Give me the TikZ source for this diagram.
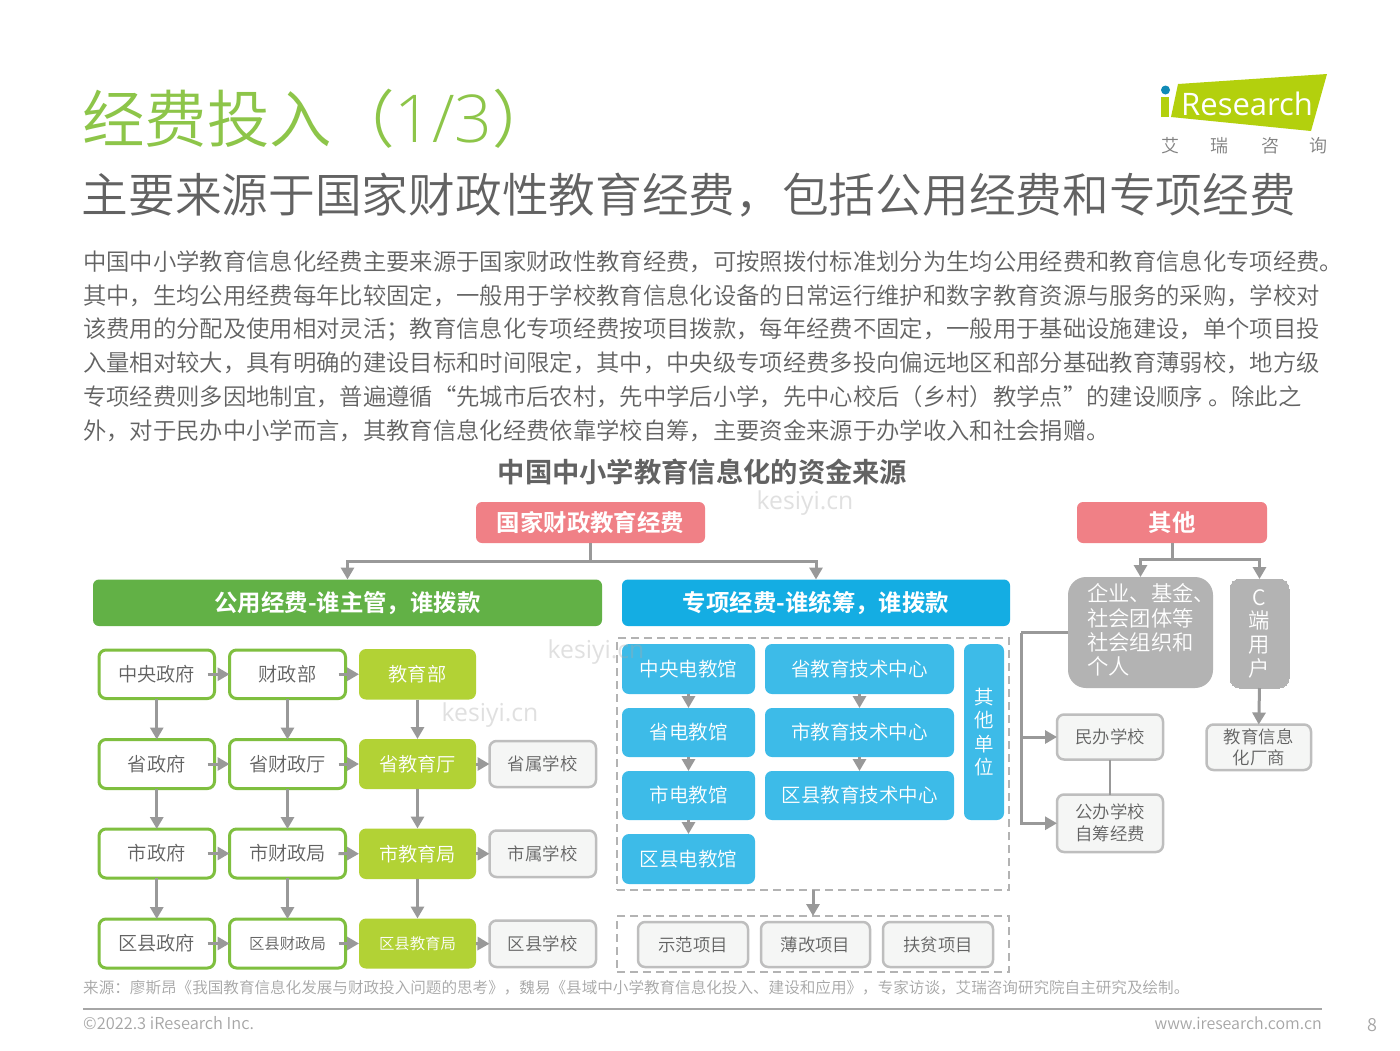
\documentclass[tikz,border=0pt]{standalone}
\usepackage{fontspec}
\setmainfont{Noto Sans CJK SC}[UprightFont=* DemiLight,BoldFont=* Bold]
\newfontfamily\latinf{Open Sans}
\newfontfamily\latinl{Open Sans}[UprightFont=* Light]
\usetikzlibrary{arrows.meta,calc}
\definecolor{cpink}{HTML}{F08086}
\definecolor{cgreen}{HTML}{62B146}
\definecolor{cblue}{HTML}{14ADE3}
\definecolor{clblue}{HTML}{3DBBE8}
\definecolor{clime}{HTML}{B2D235}
\definecolor{cedge}{HTML}{7FBF3F}
\definecolor{cgrey}{HTML}{B3B3B3}
\definecolor{cline}{HTML}{999999}
\definecolor{ctitle}{HTML}{8DC549}
\definecolor{ctext}{HTML}{626262}
\definecolor{cfoot}{HTML}{A6A6A6}
\definecolor{cpale}{HTML}{F5F6F5}
\definecolor{cwater}{HTML}{A8A8A8}
\definecolor{clogo}{HTML}{B3D00D}
\newcommand\pxf[1]{\fontsize{#1}{#1}\selectfont}
\newcommand\bx[7]{\node[#6,minimum width={(#4-#2)*1pt},minimum height={(#5-#3)*1pt}] (#1) at ({(#2+#4)/2},{(#3+#5)/2}) {#7};}
\tikzset{
 base/.style={inner sep=0pt,outer sep=0pt,align=center},
 headbox/.style={base,fill=cpink,rounded corners=6pt,text=white,font=\pxf{23.4}\bfseries},
 pubbar/.style={base,fill=cgreen,rounded corners=6pt,text=white,font=\pxf{23.4}\bfseries},
 projbar/.style={base,fill=cblue,rounded corners=6pt,text=white,font=\pxf{23.4}\bfseries},
 govbox/.style={base,draw=cedge,line width=3pt,fill=white,rounded corners=7pt,text=ctext,font=\pxf{19.2}},
 limebox/.style={base,fill=clime,rounded corners=7pt,text=white,font=\pxf{19.2}},
 blubox/.style={base,fill=clblue,rounded corners=7pt,text=white,font=\pxf{19.5}},
 palebox/.style={base,draw=cgrey!85!white,line width=2.5pt,fill=cpale,rounded corners=7pt,text=ctext,font=\pxf{17.4}},
 greybox/.style={base,fill=cgrey,text=white,font=\pxf{21.3}},
 dashbox/.style={base,draw=cgrey,line width=2.5pt,dash pattern=on 8pt off 5pt},
 arr/.style={draw=cline,line width=3pt,-{Triangle[width=13pt,length=12pt]}},
 ln/.style={draw=cline,line width=3pt},
 bodyline/.style={anchor=west,inner sep=0pt,text=ctext,font=\pxf{23.33}},
 water/.style={text=cwater,text opacity=.35,inner sep=0pt,font=\latinf\pxf{24.7}},
}
\begin{document}
\begin{tikzpicture}[x=1pt,y=-1pt]
\useasboundingbox (0,0) rectangle (1400,1050);
\fill[white] (0,0) rectangle (1400,1050);

% title
\node[anchor=west,inner sep=0pt,text=ctitle,font=\pxf{62.5}] (title) at (82,118.5) {经费投入（{\latinl\pxf{66}1/3}）};
\node[anchor=west,inner sep=0pt,text=ctext,font=\pxf{46.7}] (subtitle) at (81.5,195) {主要来源于国家财政性教育经费，包括公用经费和专项经费};

% logo
\fill[clogo] (1178,84) -- (1327,74) -- (1311,131) -- (1171,117) -- cycle;
\fill[clogo] (1161,97) rectangle (1169,117);
\fill[cblue!80!black] (1165.5,90) circle (4.5);
\node[anchor=west,inner sep=0pt,text=white,font=\latinf\pxf{31}] (logoname) at (1181,104) {Research};
\foreach \nm/\cx/\ch in {la/1170/艾,lb/1219/瑞,lc/1270/咨,ld/1318/询}
  \node[inner sep=0pt,text=ctext!80!white,font=\pxf{18}] (\nm) at (\cx,146) {\ch};

% paragraph
\node[bodyline] (p1) at (83,261.7) {中国中小学教育信息化经费主要来源于国家财政性教育经费，可按照拨付标准划分为生均公用经费和教育信息化专项经费。};
\node[bodyline] (p2) at (83,295.5) {其中，生均公用经费每年比较固定，一般用于学校教育信息化设备的日常运行维护和数字教育资源与服务的采购，学校对};
\node[bodyline] (p3) at (83,329) {该费用的分配及使用相对灵活；教育信息化专项经费按项目拨款，每年经费不固定，一般用于基础设施建设，单个项目投};
\node[bodyline] (p4) at (83,363) {入量相对较大，具有明确的建设目标和时间限定，其中，中央级专项经费多投向偏远地区和部分基础教育薄弱校，地方级};
\node[bodyline] (p5) at (83,396.5) {专项经费则多因地制宜，普遍遵循“先城市后农村，先中学后小学，先中心校后（乡村）教学点”的建设顺序 。除此之};
\node[bodyline] (p6) at (83,430.5) {外，对于民办中小学而言，其教育信息化经费依靠学校自筹，主要资金来源于办学收入和社会捐赠。};

\node[inner sep=0pt,text=ctext,font=\pxf{27.3}\bfseries] (chart) at (702.5,472) {中国中小学教育信息化的资金来源};

% top boxes
\bx{guojia}{476}{502}{705}{543}{headbox}{国家财政教育经费}
\bx{qita}{1077}{502}{1267}{543}{headbox}{其他}
\bx{pub}{93}{579.5}{602}{626}{pubbar}{公用经费-谁主管，谁拨款}
\bx{proj}{622}{579.5}{1010}{626}{projbar}{专项经费-谁统筹，谁拨款}

% public columns
\bx{a1}{99}{650}{214.5}{698.5}{govbox}{中央政府}
\bx{b1}{229.5}{650}{345.5}{698.5}{govbox}{财政部}
\bx{c1}{359}{649}{476}{699.5}{limebox}{教育部}
\bx{a2}{99}{739.5}{214.5}{788.5}{govbox}{省政府}
\bx{b2}{229.5}{739.5}{345.5}{788.5}{govbox}{省财政厅}
\bx{c2}{359}{739}{476}{789}{limebox}{省教育厅}
\bx{d2}{489.5}{741}{596}{787}{palebox}{省属学校}
\bx{a3}{99}{829}{214.5}{878}{govbox}{市政府}
\bx{b3}{229.5}{829}{345.5}{878}{govbox}{市财政局}
\bx{c3}{359}{828.5}{476}{879}{limebox}{市教育局}
\bx{d3}{489.5}{830.5}{596}{877}{palebox}{市属学校}
\bx{a4}{99}{919}{214.5}{968}{govbox}{区县政府}
\bx{b4}{229.5}{919}{345.5}{968}{govbox}{\pxf{15.4}区县财政局}
\bx{c4}{359}{918.5}{476}{968.5}{limebox}{\pxf{15.4}区县教育局}
\bx{d4}{489.5}{920.5}{596}{967}{palebox}{区县学校}

\foreach \col in {a,b,c}{
  \draw[arr] (\col1.south) -- (\col2.north);
  \draw[arr] (\col2.south) -- (\col3.north);
  \draw[arr] (\col3.south) -- (\col4.north);
}
\foreach \row in {1,2,3,4}{
  \draw[arr] ([xshift=-7pt]a\row.east) -- (b\row.west);
  \draw[arr] ([xshift=-7pt]b\row.east) -- (c\row.west);
}
\foreach \row in {2,3,4}
  \draw[arr] (c\row.east) -- (d\row.west);

% project boxes
\node[dashbox,minimum width=392pt,minimum height=252pt] (dash1) at (813,764) {};
\node[dashbox,minimum width=392pt,minimum height=56pt] (dash2) at (813,944) {};
\bx{e1}{622}{644}{755}{694}{blubox}{中央电教馆}
\bx{e2}{622}{708}{755}{757}{blubox}{省电教馆}
\bx{e3}{622}{771}{755}{820}{blubox}{市电教馆}
\bx{e4}{622}{834}{755}{884}{blubox}{区县电教馆}
\bx{f1}{765}{644}{954}{694}{blubox}{省教育技术中心}
\bx{f2}{765}{708}{954}{757}{blubox}{市教育技术中心}
\bx{f3}{765}{771}{954}{820}{blubox}{区县教育技术中心}
\bx{g1}{964}{644}{1004}{820}{blubox}{其\\[3.8pt]他\\[3.8pt]单\\[3.8pt]位}
\foreach \p/\q in {e1/e2,e2/e3,e3/e4,f1/f2,f2/f3}
  \draw[arr] (\p.south) -- (\q.north);
\draw[arr] (dash1.south) -- (dash2.north);
\bx{h1}{638}{922}{748}{967}{palebox}{示范项目}
\bx{h2}{761}{922}{870}{967}{palebox}{薄改项目}
\bx{h3}{883}{922}{993}{967}{palebox}{扶贫项目}

% other column
\bx{qiye}{1068}{577}{1213}{688}{greybox,rounded corners=18pt}{\begin{tabular}{@{}l@{}}\makebox[105pt][l]{企业、基金、}\\[0pt]社会团体等\\[0pt]社会组织和\\[0pt]个人\end{tabular}}
\bx{cuser}{1230}{579}{1289}{688}{greybox,draw=cgrey,line width=0pt,rounded corners=10pt}{C\\[2.4pt]端\\[2.4pt]用\\[2.4pt]户}
\bx{minban}{1057}{714.5}{1163}{759.5}{palebox}{民办学校}
\bx{gongban}{1057}{794.5}{1163}{852}{palebox}{公办学校\\[4.6pt]自筹经费}
\bx{vendor}{1206.5}{724.5}{1311}{770}{palebox}{教育信息\\[3.6pt]化厂商}

% elbow connectors
\coordinate (j1) at (590.5,561.5);
\coordinate (j2) at (1172,559);
\coordinate (j3) at (1021,632.5);
\draw[ln] (guojia.south) -- (j1);
\draw[arr] (j1) -| (pub.north);
\draw[arr] (j1) -| (proj.north);
\draw[ln] (qita.south) -- (j2);
\draw[arr] (j2) -| (qiye.north);
\draw[arr] (j2) -| (cuser.north);
\draw[ln] (qiye.west) -- (j3);
\draw[arr] (j3) |- (minban.west);
\draw[arr] (j3) |- (gongban.west);
\draw[arr] (cuser.south) -- (vendor.north);
\draw[draw=cline,line width=2pt] (minban.south) -- (gongban.north);

% footer
\node[anchor=west,inner sep=0pt,text=cfoot,font=\pxf{15.58}] (source) at (83,988) {来源：廖斯昂《我国教育信息化发展与财政投入问题的思考》，魏易《县域中小学教育信息化投入、建设和应用》，专家访谈，艾瑞咨询研究院自主研究及绘制。};
\coordinate (fl) at (83,1009);
\coordinate (fr) at (1322,1009);
\draw[draw=cfoot,line width=2pt] (fl) -- (fr);
\node[anchor=west,inner sep=0pt,text=cfoot,font=\pxf{16.4}] (copy) at (83,1023) {©2022.3 iResearch Inc.};
\node[anchor=east,inner sep=0pt,text=cfoot,font=\pxf{16}] (web) at (1322,1023) {www.iresearch.com.cn};
\node[inner sep=0pt,text=cfoot,font=\pxf{18}] (page) at (1372,1025) {8};

% watermark
\node[water] (w1) at (805,503) {kesiyi.cn};
\node[water] (w2) at (596,652) {kesiyi.cn};
\node[water] (w3) at (490,715.5) {kesiyi.cn};
\end{tikzpicture}
\end{document}
